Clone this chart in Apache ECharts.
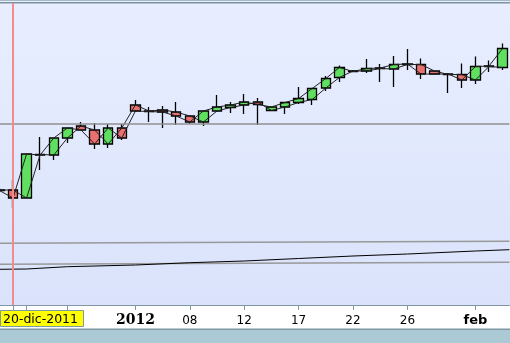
<!DOCTYPE html>
<html>
<head>
<meta charset="utf-8">
<script src="https://cdn.jsdelivr.net/npm/echarts@6/dist/echarts.min.js"></script>
<style>html,body{margin:0;padding:0;background:#fff}#c{width:510px;height:343px}</style>
</head>
<body>
<div id="c"></div>
<script>
// Categories (one per session, first one partially off-screen)
const categories = ['19-dic','20-dic','21-dic','22-dic','23-dic','26-dic','27-dic','28-dic','29-dic','30-dic',
  '2012','03','04','05','08','09','10','11','12','13','15','16','17','18','19','20','22','23','24','25','26',
  '27','29','30','31','feb','02','03b'];
// Axis labels shown and tick positions (category indices)
const shownLabels = ['2012','08','12','17','22','26','feb'];
const tickCats = [1,2,5,10,14,18,22,26,30,35];
const cursorLabel = '20-dic-2011';
const cursorValue = 0;          // position of the red cursor line (session index of 20-dic)
const levelValue = 181;         // horizontal grey level
// OHLC (arbitrary price units)
const open  = [115,115,107,150.5,150,167,179,175,161,177,200,194,195,193,189,183,194,197.5,200,203,194.5,198,202.5,205.5,217,227.5,234,234,236.5,236,240.5,240.5,234,230.5,230.5,225,238.5,237.5];
const close = [114.5,107,151,150,167,177,175,161,177,167,194,193.5,193,189,183,194,198,200,203,200.5,198,202.5,206.5,216.5,226.5,237.5,233.5,236.5,237,240.5,241,231,231,231,225,238.5,239,256.5];
const low   = [113,97,107,135,145,162,175,156,157,165,193,183,177,180,181,179,193,192,191,180,194,191,201,200,214,223,233,232,223,218,235,226,230.5,212,217,221,233,235];
const high  = [117,125,151,168,167,177,183,182,181,181,205,198,199,203,189,194,210,203,211,207,198,203,218,216.5,229,239.5,235,246,241,249,256,246.5,234,232,241.5,248.5,244.5,261.5];
// Long moving average and band lines (x = session index)
const maX   = [-1.5,1,4,9,13,17,21,25,29,34,36.5];
const maVal = [35.6,36,38.3,40,42.3,44,46.5,49,51,54,55.3];
const upperX = [-1.5,17.5,36.5], upperVal = [61.6,62.7,63.7];
const lowerX = [-1.5,17.5,36.5], lowerVal = [40.7,41.7,42.7];

const ohlc = open.map((o,i)=>[o, close[i], low[i], high[i]]);
const pairs = (xs, ys) => xs.map((x,i)=>[x, ys[i]]);

const chart = echarts.init(document.getElementById('c'), null, {renderer:'canvas'});
const lab = new Set(shownLabels);
const tk = new Set(tickCats);
chart.setOption({
  animation: false,
  graphic: [
    {type:'rect', z:-10, shape:{x:0,y:0,width:510,height:305}, style:{fill:{type:'linear',x:0,y:0,x2:0,y2:1,colorStops:[{offset:0,color:'#e8eeff'},{offset:1,color:'#dae3fb'}]}}, silent:true},
    {type:'rect', z:-9, shape:{x:0,y:0,width:510,height:1}, style:{fill:'#a9bcc6'}, silent:true},
    {type:'rect', z:-9, shape:{x:0,y:2,width:510,height:1.5}, style:{fill:'#7a93a1'}, silent:true},
    {type:'rect', z:-10, shape:{x:0,y:305,width:510,height:24}, style:{fill:'#ffffff'}, silent:true},
    {type:'rect', z:-9, shape:{x:0,y:328.5,width:510,height:1.5}, style:{fill:'#7f98a5'}, silent:true},
    {type:'rect', z:-9, shape:{x:0,y:330,width:510,height:13}, style:{fill:'#abcad6'}, silent:true},
    {type:'rect', z:20, shape:{x:0.5,y:310.5,width:83,height:16}, style:{fill:'#ffff00', stroke:'#7d97a3', lineWidth:1}, silent:true},
    {type:'text', z:21, x:3, y:319.5, style:{text:cursorLabel, font:'12.5px "DejaVu Sans"', fill:'#000', verticalAlign:'middle'}, silent:true}
  ],
  grid: {left:-7.4, right:0.6, top:3, bottom:38, outerBoundsMode:'none', containLabel:false},
  xAxis: [
    {type:'category', data:categories, boundaryGap:true,
     axisLine:{show:true, lineStyle:{color:'#8096a3', width:1}},
     axisTick:{show:true, alignWithLabel:true, length:5, interval:(i)=>tk.has(i), lineStyle:{color:'#8096a3'}},
     axisLabel:{show:true, interval:(i,v)=>lab.has(v), margin:15.5, verticalAlign:'middle', color:'#000',
       fontFamily:'DejaVu Sans', fontSize:12,
       formatter:(v)=> v==='2012' ? '{y|2012}' : (v==='feb' ? '{m|feb}' : v),
       rich:{y:{fontFamily:'DejaVu Serif', fontWeight:'bold', fontSize:14, color:'#000', verticalAlign:'middle'},
             m:{fontFamily:'DejaVu Sans', fontWeight:'bold', fontSize:13, color:'#000', verticalAlign:'middle'}}},
     splitLine:{show:false}},
    {type:'value', min:-1.5, max:36.5, show:false, splitLine:{show:false}}
  ],
  yAxis: {type:'value', min:0, max:302, show:false, splitLine:{show:false}},
  series: [
    {type:'candlestick', xAxisIndex:0, data:ohlc, barWidth:10,
     itemStyle:{color:'#60e060', color0:'#e87070', borderColor:'#000', borderColor0:'#000', borderColorDoji:'#000', borderWidth:1.3}},
    {type:'line', xAxisIndex:0, data:open, showSymbol:false, symbol:'none', lineStyle:{color:'#222', width:1}, z:3},
    {type:'line', xAxisIndex:0, data:close, showSymbol:false, symbol:'none', lineStyle:{color:'#222', width:1}, z:3},
    {type:'line', xAxisIndex:1, data:pairs(upperX, upperVal), showSymbol:false, symbol:'none', lineStyle:{color:'#999', width:1.5}},
    {type:'line', xAxisIndex:1, data:pairs(lowerX, lowerVal), showSymbol:false, symbol:'none', lineStyle:{color:'#999', width:1.5}},
    {type:'line', xAxisIndex:1, data:pairs(maX, maVal), showSymbol:false, symbol:'none', lineStyle:{color:'#000', width:1}, z:4,
     markLine:{silent:true, symbol:'none', label:{show:false},
       data:[
         {yAxis:levelValue, lineStyle:{color:'#8f8f8f', width:1.5, type:'solid'}},
         {xAxis:cursorValue, lineStyle:{color:'#f28c8c', width:2, type:'solid'}}
       ]}}
  ]
});
</script>
</body>
</html>
